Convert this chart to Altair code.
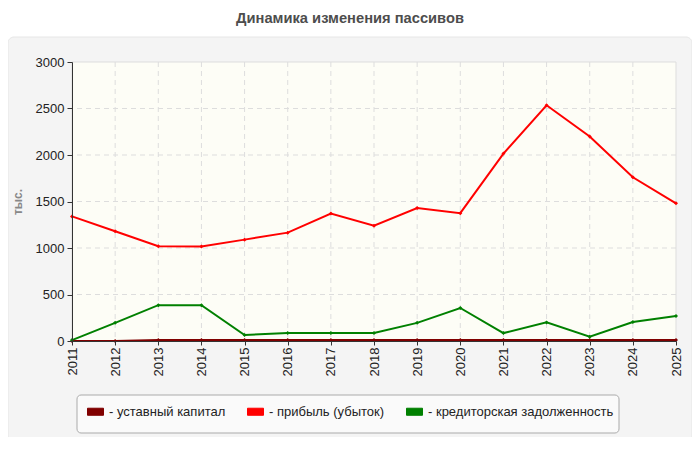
import altair as alt
import pandas as pd

years = list(range(2011, 2026))
series = ["уставный капитал", "прибыль (убыток)", "кредиторская задолженность"]
colors = ["#800000", "#ff0000", "#008000"]

capital = [0, 0, 10, 10, 10, 10, 10, 10, 10, 10, 10, 10, 10, 10, 10]
profit = [1340, 1180, 1020, 1015, 1090, 1165, 1370, 1240, 1430, 1375, 2015, 2535, 2200, 1760, 1480]
payables = [10, 195, 385, 385, 65, 85, 85, 85, 195, 355, 85, 200, 45, 205, 270]

y_ticks = [0, 500, 1000, 1500, 2000, 2500, 3000]

rows = []
for name, vals in zip(series, [capital, profit, payables]):
    for yr, v in zip(years, vals):
        rows.append({"year": yr, "value": v, "series": name})
dat = pd.DataFrame(rows)

W, H = 604, 279

xs = alt.Scale(domain=[years[0], years[-1]], nice=False, zero=False)
ys = alt.Scale(domain=[0, 3000], nice=False)

x_enc = alt.X("year:Q", scale=xs, axis=alt.Axis(
    values=years, format="d", labelAngle=-90, grid=False, title=None, zindex=1,
    domainColor="#333333", tickColor="#333333", tickSize=4, labelPadding=2,
    labelColor="#222222", labelFontSize=13))
y_enc = alt.Y("value:Q", scale=ys, axis=alt.Axis(
    values=y_ticks, format="d", grid=False, zindex=1, title="тыс.",
    titleX=-48, titleY=H / 2, titleFontSize=12, titleColor="#888888",
    titleFontWeight="bold", domainColor="#333333", tickColor="#333333",
    tickSize=5, labelPadding=3, labelColor="#222222", labelFontSize=13))

one = pd.DataFrame({"a": [0]})

# серая подложка и фон области построения
panel = alt.Chart(one).mark_rect(fill="#f4f4f4", stroke="#e6e6e6", cornerRadius=6).encode(
    x=alt.value(-64), x2=alt.value(620), y=alt.value(-25), y2=alt.value(380))
plotbg = alt.Chart(one).mark_rect(fill="#fdfdf6", stroke="#dddddd").encode(
    x=alt.value(0), x2=alt.value(W), y=alt.value(0), y2=alt.value(H))
legbox = alt.Chart(one).mark_rect(fill="#fafafa", stroke="#aaaaaa", cornerRadius=4).encode(
    x=alt.value(5), x2=alt.value(547), y=alt.value(333), y2=alt.value(371))

# сетка
grid_y = alt.Chart(pd.DataFrame({"value": y_ticks[1:-1]})).mark_rule(
    color="#dddddd", strokeDash=[5, 4]).encode(y=y_enc)
grid_x = alt.Chart(pd.DataFrame({"year": years[1:-1]})).mark_rule(
    color="#dddddd", strokeDash=[5, 4]).encode(x=x_enc)

color_scale = alt.Scale(domain=series, range=colors)
leg = alt.Legend(
    orient="none", legendX=15, legendY=341, direction="horizontal", title=None,
    symbolType="M-1,-0.44L1,-0.44L1,0.44L-1,0.44Z", symbolSize=256,
    symbolStrokeColor="#666666", symbolStrokeWidth=1, symbolOpacity=1,
    labelExpr="'- ' + datum.label", labelFontSize=13, labelColor="#222222",
    labelLimit=300, labelOffset=5, columnPadding=19, padding=0)

points = alt.Chart(dat).mark_point(filled=True, shape="diamond", size=16, opacity=1).encode(
    x=x_enc, y=y_enc,
    color=alt.Color("series:N", scale=color_scale, legend=leg))

lines = alt.Chart(dat).mark_line(strokeWidth=2).encode(
    x=x_enc, y=y_enc,
    color=alt.Color("series:N", scale=color_scale, legend=leg))

chart = alt.layer(panel, plotbg, legbox, grid_y, grid_x, points, lines).properties(
    width=W, height=H,
    autosize="none",
    padding={"left": 64, "top": 54, "right": 16, "bottom": 96},
    title=alt.TitleParams("Динамика изменения пассивов", fontSize=14.7, fontWeight="bold",
                          color="#4d4d4d", anchor="middle", dx=-24, baseline="bottom",
                          offset=-4),
).configure(font="Liberation Sans", background="white").configure_view(stroke=None)

chart.save("out.html", embed_options={"renderer": "svg", "actions": False})
